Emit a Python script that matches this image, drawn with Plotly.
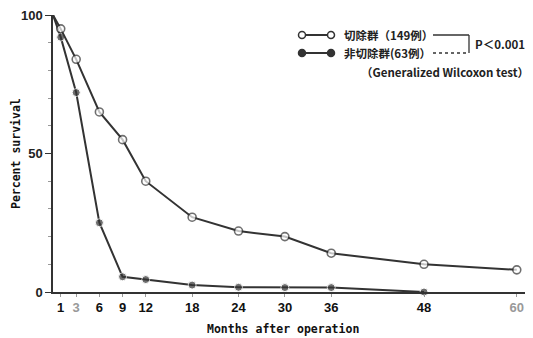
import plotly.graph_objects as go

months_resected = [0, 1, 3, 6, 9, 12, 18, 24, 30, 36, 48, 60]
survival_resected = [100, 95, 84, 65, 55, 40, 27, 22, 20, 14, 10, 8]
months_nonresected = [0, 1, 3, 6, 9, 12, 18, 24, 30, 36, 48]
survival_nonresected = [100, 92, 72, 25, 5.5, 4.5, 2.5, 1.7, 1.6, 1.6, 0]
x_ticks = [1, 3, 6, 9, 12, 18, 24, 30, 36, 48, 60]
x_ticklabels = ["1", '<span style="color:#999">3</span>', "6", "9", "12", "18", "24", "30", "36", "48",
                '<span style="color:#999">60</span>']
y_ticks = [0, 50, 100]
label_resected = "切除群（149例）"
label_nonresected = "非切除群(63例）"
p_text = "P＜0.001"
test_text = "（Generalized Wilcoxon test）"
x_title = "Months after operation"
y_title = "Percent survival"

LC = "#333333"
OFF = 8  # page body margin
W, H = 533 - OFF, 338 - OFF
L, R, T, B = 53, 533, 15, 292  # in window pixels

def px(x):
    return (x - L) / (R - L)

def py(y):
    return (B - y) / (B - T)

fig = go.Figure()
fig.add_trace(go.Scatter(
    x=months_nonresected, y=survival_nonresected, mode="lines+markers",
    line=dict(color=LC, width=2),
    marker=dict(symbol="circle", size=[0] + [8] * (len(months_nonresected) - 1), color=LC),
    showlegend=False, cliponaxis=False))
fig.add_trace(go.Scatter(
    x=months_resected, y=survival_resected, mode="lines+markers",
    line=dict(color=LC, width=2),
    marker=dict(symbol="circle", size=[0] + [8] * (len(months_resected) - 1),
                color="white", line=dict(color=LC, width=1.6)),
    showlegend=False, cliponaxis=False))

shapes = []
for yy, filled in [(35, False), (53, True)]:
    shapes.append(dict(type="line", xref="paper", yref="paper", x0=px(302), x1=px(331),
                       y0=py(yy), y1=py(yy), line=dict(color=LC, width=2)))
    for xx in (302, 331):
        shapes.append(dict(type="circle", xref="paper", yref="paper",
                           x0=px(xx - 3.5), x1=px(xx + 3.5), y0=py(yy + 3.5), y1=py(yy - 3.5),
                           fillcolor=LC if filled else "white", line=dict(color=LC, width=1.5)))
shapes.append(dict(type="line", xref="paper", yref="paper", x0=px(433), x1=px(469),
                   y0=py(35), y1=py(35), line=dict(color=LC, width=1.3)))
shapes.append(dict(type="line", xref="paper", yref="paper", x0=px(433), x1=px(469),
                   y0=py(53), y1=py(53), line=dict(color=LC, width=1.3, dash="dot")))
shapes.append(dict(type="line", xref="paper", yref="paper", x0=px(469), x1=px(469),
                   y0=py(35), y1=py(53), line=dict(color=LC, width=1.3)))

cjk = "Noto Sans CJK JP"
ann = [
    dict(x=px(342), y=py(35), text=label_resected, xanchor="left"),
    dict(x=px(342), y=py(53), text=label_nonresected, xanchor="left"),
    dict(x=px(473), y=py(44), text=p_text, xanchor="left"),
    dict(x=px(531), y=py(72), text=test_text, xanchor="right"),
]
annotations = []
for a in ann:
    a.update(xref="paper", yref="paper", yanchor="middle", showarrow=False,
             font=dict(family=cjk, size=11.5, color="#222", weight="bold"))
    annotations.append(a)
title_font = dict(family="DejaVu Sans Mono", size=11.5, color="#111", weight="bold")
annotations.append(dict(x=px(283), y=py(329), xref="paper", yref="paper", text=x_title,
                        showarrow=False, xanchor="center", yanchor="middle", font=title_font))
annotations.append(dict(x=px(16), y=py(154), xref="paper", yref="paper", text=y_title,
                        showarrow=False, xanchor="center", yanchor="middle", textangle=-90,
                        font=title_font))

fig.update_layout(
    width=W, height=H,
    margin=dict(l=L - OFF, r=533 - R, t=T - OFF, b=338 - B, autoexpand=False),
    plot_bgcolor="white", paper_bgcolor="white",
    shapes=shapes, annotations=annotations,
    xaxis=dict(range=[0, 62.1], tickvals=x_ticks, ticktext=x_ticklabels, automargin=False,
               showgrid=False, zeroline=False, showline=True, linecolor=LC, linewidth=1.5,
               ticks="outside", ticklen=3, tickcolor="#999", tickwidth=1,
               ticklabeloverflow="allow",
               tickfont=dict(family="Liberation Sans", size=13, color="#111", weight="bold")),
    yaxis=dict(range=[0, 100], tickvals=y_ticks, ticktext=["0", "50", "100"], automargin=False,
               showgrid=False, zeroline=False, showline=True, linecolor=LC, linewidth=1.5,
               ticks="outside", ticklen=6, tickcolor=LC, tickwidth=1,
               ticklabeloverflow="allow",
               minor=dict(dtick=10, ticks="outside", ticklen=3, tickcolor="#999"),
               tickfont=dict(family="Liberation Sans", size=13, color="#222", weight="bold")),
)
fig.write_html("out.html")
